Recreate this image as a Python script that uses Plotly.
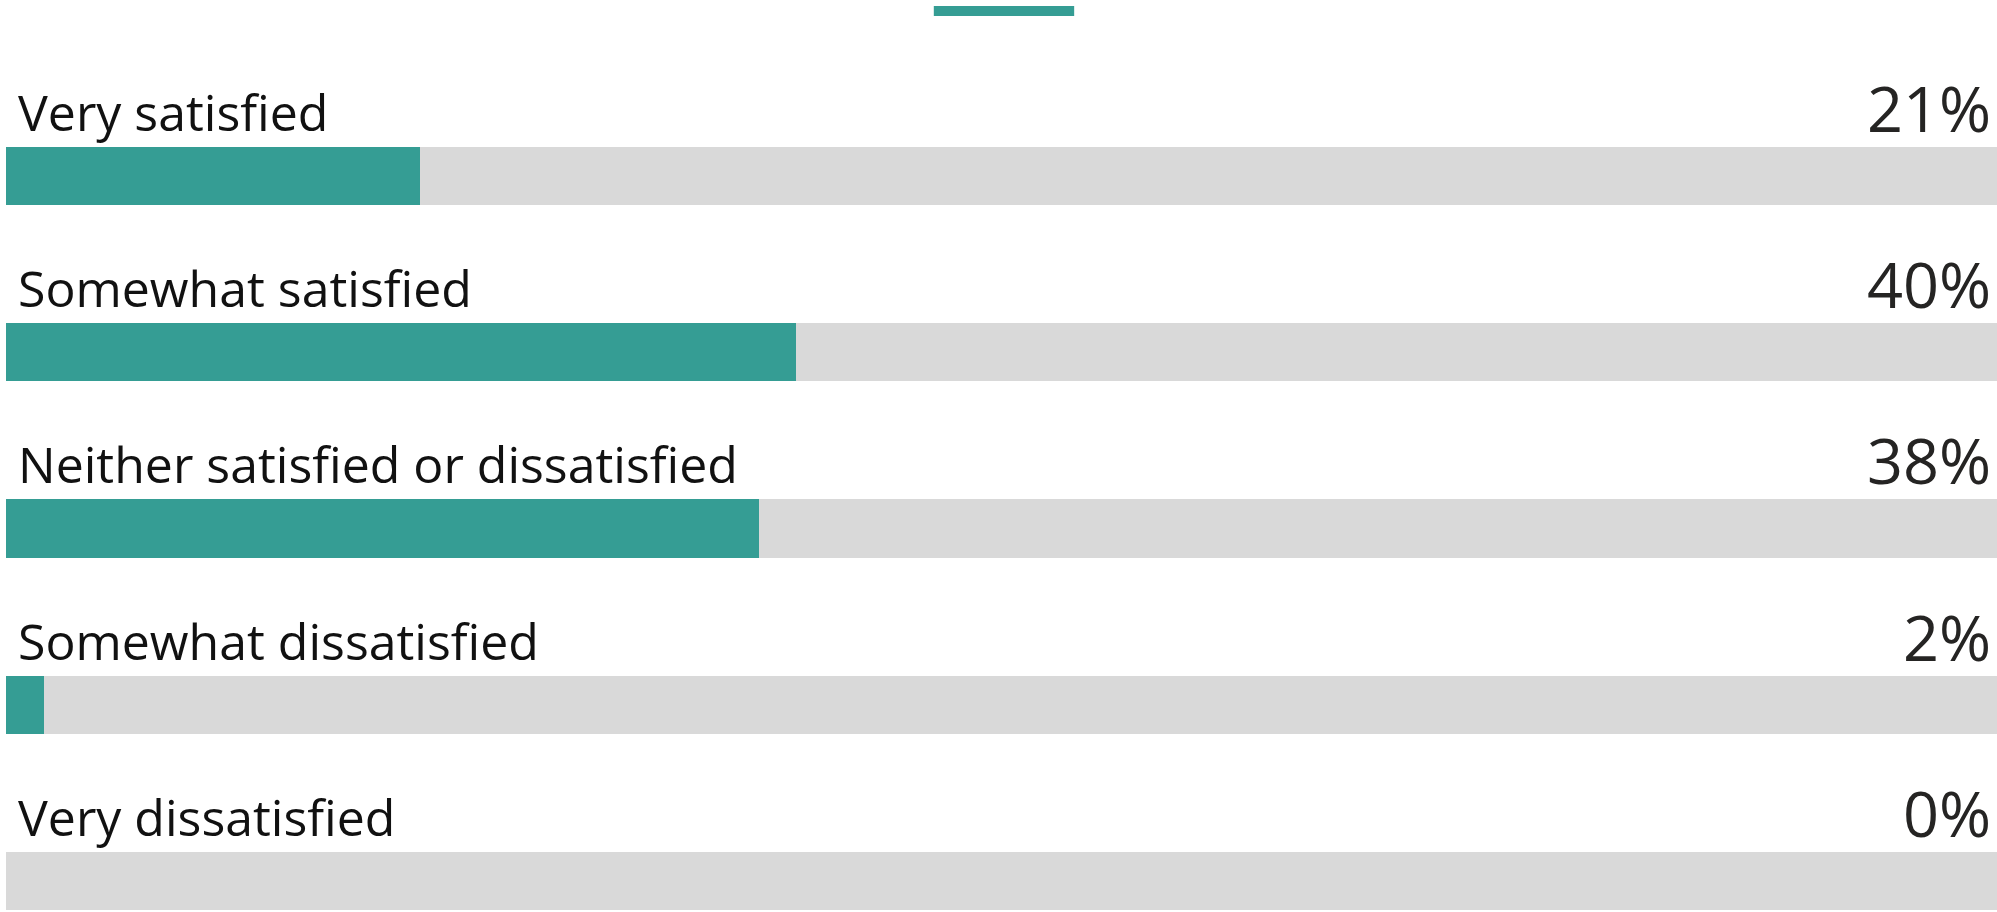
import plotly.graph_objects as go

categories = ["Very satisfied", "Somewhat satisfied", "Neither satisfied or dissatisfied",
              "Somewhat dissatisfied", "Very dissatisfied"]
values = [20.8, 39.7, 37.8, 1.9, 0.0]
labels = ["21%", "40%", "38%", "2%", "0%"]
total = [100, 100, 100, 100, 100]

TEAL = "#359D94"
GRAY = "#D9D9D9"
FONT = "Open Sans"

pos = list(range(len(categories)))
fig = go.Figure()
fig.add_trace(go.Bar(y=pos, x=total, orientation="h", marker=dict(color=GRAY, line=dict(width=0)),
                     width=0.33, hoverinfo="skip", showlegend=False))
fig.add_trace(go.Bar(y=pos, x=values, orientation="h", marker=dict(color=TEAL, line=dict(width=0)),
                     width=0.33, customdata=categories, hovertemplate="%{customdata}: %{x}%<extra></extra>",
                     showlegend=False))

annotations = []
for i, (c, l) in enumerate(zip(categories, labels)):
    annotations.append(dict(x=0, y=i - 0.165, xref="x", yref="y", text=c, showarrow=False,
                            xanchor="left", yanchor="bottom", xshift=10, yshift=-1,
                            font=dict(family=FONT, size=50, color="#111111")))
    annotations.append(dict(x=100, y=i - 0.165, xref="x", yref="y", text=l, showarrow=False,
                            xanchor="right", yanchor="bottom", xshift=-4, yshift=-5,
                            font=dict(family=FONT, size=63, color="#252423")))

fig.update_layout(
    width=1997, height=912,
    margin=dict(l=6, r=0, t=0, b=0),
    paper_bgcolor="white", plot_bgcolor="white",
    barmode="overlay", bargap=0,
    xaxis=dict(range=[0, 100], visible=False, fixedrange=True),
    yaxis=dict(range=[4.176, -0.999], visible=False, fixedrange=True),
    annotations=annotations,
    shapes=[dict(type="rect", xref="paper", yref="paper", x0=0.466, x1=0.5365, y0=0.9825, y1=0.9934,
                 fillcolor=TEAL, line=dict(width=0))],
)
fig.write_html("out.html", config={"displayModeBar": False},
               post_script="document.body.style.margin='0';document.body.style.overflow='hidden';")
